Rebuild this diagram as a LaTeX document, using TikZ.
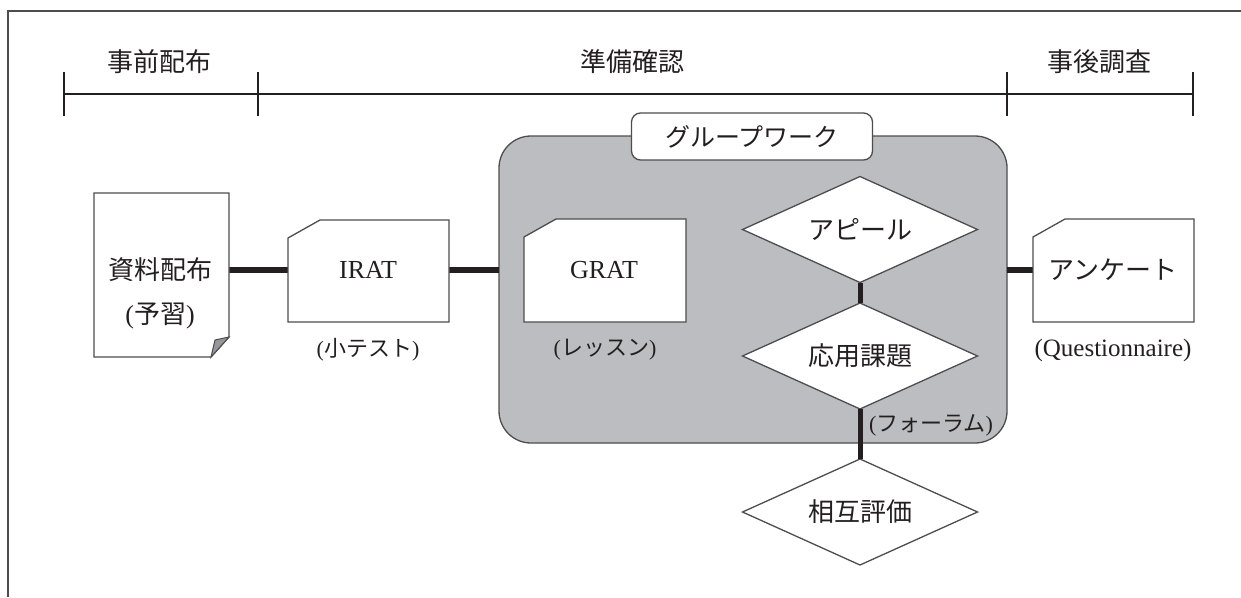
\documentclass[tikz,border=0pt]{standalone}
\usepackage{fontspec}
\setmainfont{Liberation Serif}
\newfontfamily\cjk{Noto Sans CJK JP}
\usetikzlibrary{shapes.geometric}
\definecolor{grp}{HTML}{BCBDC0}
\definecolor{ink}{HTML}{231F20}
\definecolor{edgec}{HTML}{4D4D4F}
\begin{document}
\begin{tikzpicture}[x=1pt,y=-1pt,
  mainlbl/.style={font=\cjk\fontsize{26}{30}\selectfont, text=ink, inner sep=0, outer sep=0},
  sublbl/.style={font=\cjk\fontsize{22}{26}\selectfont, text=ink, inner sep=0, outer sep=0},
  shapebox/.style={inner sep=0, outer sep=0},
  outline/.style={draw=edgec, line width=1.3pt, fill=white},
  link/.style={draw=ink, line width=6pt},
  vlink/.style={draw=ink, line width=5pt},
  tline/.style={draw=ink, line width=2.8pt},
  ddm/.style={diamond, draw=edgec, line width=1.3pt, fill=white, minimum width=235pt, minimum height=106pt, inner sep=0, outer sep=0, aspect=2.2, font=\cjk\fontsize{26}{30}\selectfont, text=ink}
]
\useasboundingbox (0,0) rectangle (1241,597);
% frame
\draw[draw=edgec, line width=2pt] (8,597) -- (8,11) -- (1241,11);

% timeline
\coordinate (t1) at (64,94);
\coordinate (t2) at (258,94);
\coordinate (t3) at (1007,94);
\coordinate (t4) at (1193,94);
\draw[tline] (t1) -- (t4);
\foreach \t in {t1,t2,t3,t4} \draw[tline] ([yshift=22pt]\t) -- ([yshift=-22pt]\t);
\node[mainlbl] (ph1) at (159,62) {事前配布};
\node[mainlbl] (ph2) at (632,62) {準備確認};
\node[mainlbl] (ph3) at (1099,62) {事後調査};

% group box
\node[draw=edgec, line width=1.3pt, fill=grp, rounded corners=32pt, minimum width=508pt, minimum height=307pt, shapebox] (group) at (753,289.5) {};
\node[draw=edgec, line width=1.3pt, fill=white, rounded corners=9pt, minimum width=241pt, minimum height=47pt, shapebox, font=\cjk\fontsize{25}{30}\selectfont, text=ink] (glabel) at (752,136.5) {グループワーク};

% shape boxes
\node[shapebox, minimum width=135pt, minimum height=164pt] (doc) at (161.5,275) {};
\node[shapebox, minimum width=161pt, minimum height=102pt] (irat) at (368.5,271) {};
\node[shapebox, minimum width=162pt, minimum height=103pt] (grat) at (605,270.5) {};
\node[shapebox, minimum width=161pt, minimum height=103pt] (quest) at (1113.5,270.5) {};

% connectors
\draw[link] (doc.east |- 0,270) -- (irat.west |- 0,270);
\draw[link] (irat.east |- 0,270) -- (group.west |- 0,270);
\draw[link] (group.east |- 0,270) -- (quest.west |- 0,270);

% document
\draw[outline] (doc.north west) -- (doc.north east) -- ([yshift=20pt]doc.south east) -- ([xshift=-18pt]doc.south east) -- (doc.south west) -- cycle;
\draw[draw=edgec, line width=1pt, fill=grp!80!black] ([yshift=20pt]doc.south east) -- ([xshift=-18pt]doc.south east) -- ([xshift=-14pt,yshift=17pt]doc.south east) -- cycle;
\node[mainlbl] (doct1) at (160,270) {資料配布};
\node[mainlbl] (doct2) at (160,316) {{\rmfamily(}予習{\rmfamily)}};

% cards
\foreach \c in {irat,grat,quest}
  \draw[outline] ([yshift=-18pt]\c.north west) -- ([xshift=32pt]\c.north west) -- (\c.north east) -- (\c.south east) -- (\c.south west) -- cycle;
\node[mainlbl, font=\rmfamily\fontsize{26}{30}\selectfont] (iratt) at (368,270) {IRAT};
\node[mainlbl, font=\rmfamily\fontsize{26}{30}\selectfont] (gratt) at (604,270) {GRAT};
\node[mainlbl] (questt) at (1113,270) {アンケート};
\node[sublbl] (iratsub) at (368,350) {{\rmfamily(}小テスト{\rmfamily)}};
\node[sublbl] (gratsub) at (605,350) {{\rmfamily(}レッスン{\rmfamily)}};
\node[sublbl, font=\rmfamily\fontsize{25}{30}\selectfont] (questsub) at (1113,350) {(Questionnaire)};

% diamonds
\node[ddm] (apl) at (860,229.5) {アピール};
\node[ddm] (app) at (860,356) {応用課題};
\node[ddm] (mut) at (860,512) {相互評価};
\draw[vlink] (apl.south) -- (app.north);
\draw[vlink] (app.south) -- (mut.north);
\node[sublbl] (forum) at (931,425) {{\rmfamily(}フォーラム{\rmfamily)}};
\end{tikzpicture}
\end{document}
